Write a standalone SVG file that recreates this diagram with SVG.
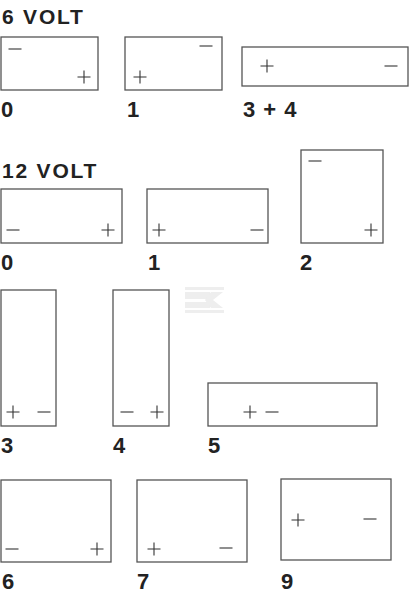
<svg xmlns="http://www.w3.org/2000/svg" width="410" height="600" viewBox="0 0 410 600">
<style>
.bat{fill:none;stroke:#555;stroke-width:1.3}
.t{stroke:#333;stroke-width:1.1;fill:none}
.lbl{font-family:"Liberation Sans",Arial,sans-serif;font-weight:bold;font-size:22px;fill:#222}
.hd{font-family:"Liberation Sans",Arial,sans-serif;font-weight:bold;font-size:21px;fill:#222;letter-spacing:1.8px}
.wm{fill:#eeeeee}
</style>
<defs>
<path id="plus" class="t" d="M-6.5,0H6.5M0,-6.5V6.5"/>
<path id="minus" class="t" d="M-6.5,0H6.5"/>
</defs>
<rect width="410" height="600" fill="#fff"/>
<g id="watermark">
<rect class="wm" x="185" y="287" width="39" height="3"/>
<rect class="wm" x="185" y="310" width="39" height="3"/>
<polygon class="wm" points="185,292 210,292 210,299 185,299"/>
<polygon class="wm" points="185,302 210,302 210,308 185,308"/>
<polygon class="wm" points="211,292 223,292 213,300 223,308 211,308 205,300"/>
</g>
<text class="hd" x="2" y="24">6 VOLT</text>
<text class="hd" x="2" y="178">12 VOLT</text>
<g id="v6-0">
<rect class="bat" x="1" y="37" width="97" height="53"/>
<use href="#minus" x="15" y="49"/>
<use href="#plus" x="84" y="77"/>
<text class="lbl" x="1" y="117">0</text>
</g>
<g id="v6-1">
<rect class="bat" x="125" y="37" width="97" height="53"/>
<use href="#minus" x="206" y="46"/>
<use href="#plus" x="140" y="77"/>
<text class="lbl" x="127" y="117">1</text>
</g>
<g id="v6-34">
<rect class="bat" x="242" y="47" width="166" height="39"/>
<use href="#plus" x="267" y="66"/>
<use href="#minus" x="391" y="66"/>
<text class="lbl" x="243" y="117" style="letter-spacing:1px">3 + 4</text>
</g>
<g id="v12-0">
<rect class="bat" x="1" y="189" width="121" height="54"/>
<use href="#minus" x="13" y="230"/>
<use href="#plus" x="108" y="230"/>
<text class="lbl" x="1" y="270">0</text>
</g>
<g id="v12-1">
<rect class="bat" x="147" y="189" width="121" height="54"/>
<use href="#plus" x="159" y="230"/>
<use href="#minus" x="257" y="230"/>
<text class="lbl" x="148" y="270">1</text>
</g>
<g id="v12-2">
<rect class="bat" x="301" y="150" width="82" height="93"/>
<use href="#minus" x="315" y="161"/>
<use href="#plus" x="371" y="230"/>
<text class="lbl" x="300" y="270">2</text>
</g>
<g id="v12-3">
<rect class="bat" x="1" y="290" width="55" height="136"/>
<use href="#plus" x="13" y="412"/>
<use href="#minus" x="44" y="412"/>
<text class="lbl" x="1" y="453">3</text>
</g>
<g id="v12-4">
<rect class="bat" x="113" y="290" width="56" height="136"/>
<use href="#minus" x="127" y="412"/>
<use href="#plus" x="157" y="412"/>
<text class="lbl" x="113" y="453">4</text>
</g>
<g id="v12-5">
<rect class="bat" x="208" y="383" width="169" height="43"/>
<use href="#plus" x="250" y="412"/>
<use href="#minus" x="272" y="412"/>
<text class="lbl" x="208" y="453">5</text>
</g>
<g id="v12-6">
<rect class="bat" x="1" y="480" width="110" height="82"/>
<use href="#minus" x="12" y="549"/>
<use href="#plus" x="97" y="549"/>
<text class="lbl" x="2" y="589">6</text>
</g>
<g id="v12-7">
<rect class="bat" x="137" y="480" width="110" height="82"/>
<use href="#plus" x="154" y="549"/>
<use href="#minus" x="226" y="548"/>
<text class="lbl" x="137" y="589">7</text>
</g>
<g id="v12-9">
<rect class="bat" x="281" y="479" width="110" height="81"/>
<use href="#plus" x="298" y="520"/>
<use href="#minus" x="370" y="519"/>
<text class="lbl" x="281" y="589">9</text>
</g>
</svg>
